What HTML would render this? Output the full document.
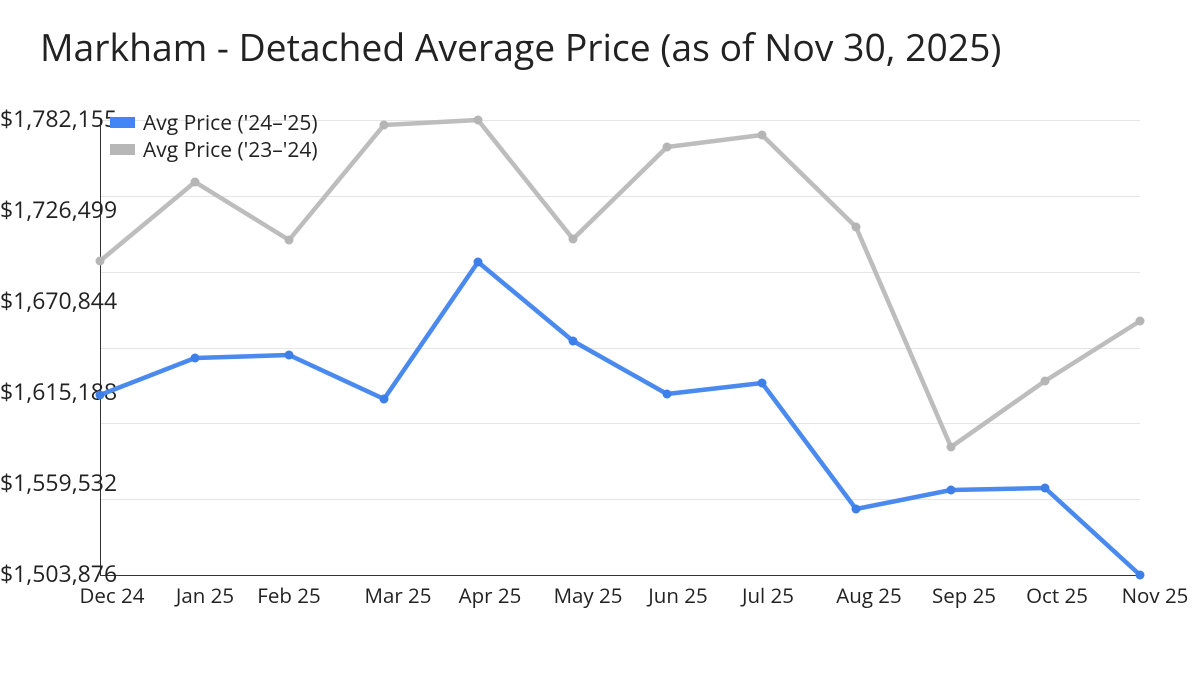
<!DOCTYPE html>
<html><head><meta charset="utf-8"><style>
body{margin:0;background:#fff;width:1200px;height:675px;overflow:hidden}
svg{display:block;font-family:"Open Sans","Liberation Sans","DejaVu Sans",sans-serif}
</style></head><body>
<svg width="1200" height="675" viewBox="0 0 1200 675">
<text x="40" y="61" font-size="37.3" fill="#222">Markham - Detached Average Price (as of Nov 30, 2025)</text>
<g stroke="#e6e6e6" stroke-width="1">
<line x1="100" x2="1140" y1="120.5" y2="120.5"/><line x1="100" x2="1140" y1="196.5" y2="196.5"/>
<line x1="100" x2="1140" y1="272.5" y2="272.5"/><line x1="100" x2="1140" y1="348.5" y2="348.5"/>
<line x1="100" x2="1140" y1="423.5" y2="423.5"/><line x1="100" x2="1140" y1="499.5" y2="499.5"/>
</g>
<line x1="100" x2="1140" y1="575.5" y2="575.5" stroke="#333" stroke-width="1"/>
<line x1="100.5" x2="100.5" y1="120" y2="575" stroke="#333" stroke-width="1"/>
<g font-size="23" fill="#222">
<text x="0" y="127">$1,782,155</text><text x="0" y="218">$1,726,499</text>
<text x="0" y="309">$1,670,844</text><text x="0" y="400">$1,615,188</text>
<text x="0" y="491">$1,559,532</text><text x="0" y="582">$1,503,876</text>
</g>
<g font-size="20.5" fill="#222" text-anchor="middle">
<text x="112" y="603">Dec 24</text><text x="205" y="603">Jan 25</text><text x="289" y="603">Feb 25</text>
<text x="398" y="603">Mar 25</text><text x="490" y="603">Apr 25</text><text x="588" y="603">May 25</text>
<text x="678" y="603">Jun 25</text><text x="768" y="603">Jul 25</text><text x="869" y="603">Aug 25</text>
<text x="964" y="603">Sep 25</text><text x="1057" y="603">Oct 25</text><text x="1155" y="603">Nov 25</text>
</g>
<polyline fill="none" stroke="#bdbdbd" stroke-width="4.5" stroke-linejoin="round" points="100,261 195,182 289,240 384,125 478,120 573,239 667,147 762,135 856,227 951,447 1045,381 1140,321"/>
<g fill="#b5b5b5"><circle cx="100" cy="261" r="4.5"/><circle cx="195" cy="182" r="4.5"/><circle cx="289" cy="240" r="4.5"/><circle cx="384" cy="125" r="4.5"/><circle cx="478" cy="120" r="4.5"/><circle cx="573" cy="239" r="4.5"/><circle cx="667" cy="147" r="4.5"/><circle cx="762" cy="135" r="4.5"/><circle cx="856" cy="227" r="4.5"/><circle cx="951" cy="447" r="4.5"/><circle cx="1045" cy="381" r="4.5"/><circle cx="1140" cy="321" r="4.5"/></g>
<polyline fill="none" stroke="#4a8aee" stroke-width="4.5" stroke-linejoin="round" points="100,395 195,358 289,355 384,399 478,262 573,341 667,394 762,383 856,509 951,490 1045,488 1140,575"/>
<g fill="#3d7fe8"><circle cx="100" cy="395" r="4.5"/><circle cx="195" cy="358" r="4.5"/><circle cx="289" cy="355" r="4.5"/><circle cx="384" cy="399" r="4.5"/><circle cx="478" cy="262" r="4.5"/><circle cx="573" cy="341" r="4.5"/><circle cx="667" cy="394" r="4.5"/><circle cx="762" cy="383" r="4.5"/><circle cx="856" cy="509" r="4.5"/><circle cx="951" cy="490" r="4.5"/><circle cx="1045" cy="488" r="4.5"/><circle cx="1140" cy="575" r="4.5"/></g>
<rect x="110" y="117" width="25" height="11" fill="#4285f4"/>
<rect x="110" y="144" width="25" height="11" fill="#b7b7b7"/>
<g font-size="21" fill="#222"><text x="143" y="130">Avg Price ('24–'25)</text><text x="143" y="157">Avg Price ('23–'24)</text></g>
</svg>
</body></html>
